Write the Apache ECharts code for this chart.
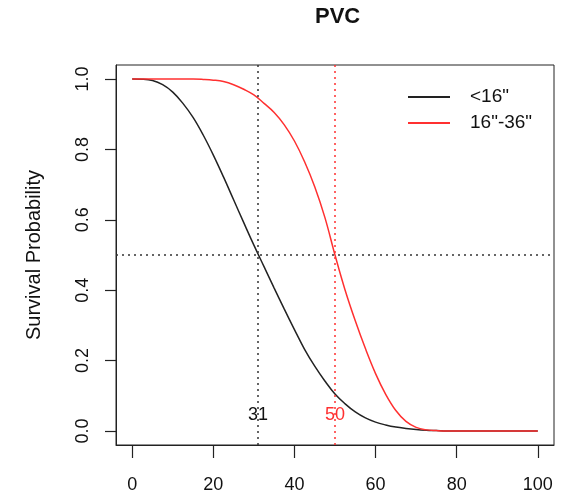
<!DOCTYPE html>
<html>
<head>
<meta charset="utf-8">
<script src="https://cdn.jsdelivr.net/npm/echarts@6/dist/echarts.min.js"></script>
<style>html,body{margin:0;padding:0;background:#fff}#c{width:577px;height:498px}</style>
</head>
<body>
<div id="c"></div>
<script>
var time = [0,2.5,5,7.5,10,12.5,15,17.5,20,22.5,25,27.5,30,32.5,35,37.5,40,42.5,45,47.5,50,52.5,55,57.5,60,62.5,65,67.5,70,72.5,75,77.5,80,82.5,85,87.5,90,92.5,95,97.5,100];
var survSmall = [1.000,0.9995,0.996,0.984,0.963,0.931,0.891,0.841,0.784,0.722,0.657,0.592,0.528,0.467,0.406,0.346,0.288,0.232,0.184,0.142,0.105,0.077,0.054,0.037,0.025,0.017,0.011,0.007,0.004,0.002,0.001,0,0,0,0,0,0,0,0,0,0];
var survMid = [1.000,1.000,1.000,1.000,1.000,1.000,1.000,0.999,0.997,0.993,0.984,0.971,0.955,0.931,0.905,0.870,0.824,0.765,0.694,0.607,0.500,0.400,0.313,0.234,0.163,0.104,0.058,0.027,0.010,0.003,0.001,0,0,0,0,0,0,0,0,0,0];
var seriesNames = ['<16"', '16"-36"'];
var medians = [31, 50];
var medianLabelY = 0.045;
var refLevel = 0.5;
var xTicks = [0,20,40,60,80,100];
var yTicks = [0,0.2,0.4,0.6,0.8,1.0];

var BLACK = '#222222', RED = '#ff3030';
var FONT = 'Liberation Sans, Arial, sans-serif';
function pairs(xs, ys){ return xs.map(function(x,i){ return [x, ys[i]]; }); }

var chart = echarts.init(document.getElementById('c'), null, {renderer:'canvas'});
chart.setOption({
  animation: false,
  textStyle: {fontFamily: FONT},
  title: {
    text: 'PVC', left: 310, top: 1,
    textStyle: {fontSize: 22, fontWeight: 'bold', color: '#111', fontFamily: FONT}
  },
  grid: {left: 116, right: 23, top: 65, bottom: 53, show: true, borderColor: '#222', borderWidth: 1, backgroundColor: 'transparent'},
  legend: {
    orient: 'vertical', left: 403, top: 82, itemWidth: 42, itemHeight: 2, itemGap: 6,
    icon: 'rect',
    data: seriesNames,
    textStyle: {fontSize: 19, color: '#111', padding: [0,0,0,15], lineHeight: 20, fontFamily: FONT}
  },
  xAxis: {
    type: 'value', min: -4, max: 104, position: 'bottom',
    axisLine: {show: true, onZero: false, lineStyle: {color: '#222', width: 1}},
    axisTick: {show: true, inside: false, length: 13, customValues: xTicks, lineStyle: {color: '#222', width: 1.2}},
    axisLabel: {customValues: xTicks, fontSize: 18, color: '#111', margin: 31},
    splitLine: {show: false}
  },
  yAxis: {
    type: 'value', min: -0.04, max: 1.04, position: 'left',
    name: 'Survival Probability', nameLocation: 'middle', nameGap: 72, nameRotate: 90,
    nameTextStyle: {fontSize: 20, color: '#111'},
    axisLine: {show: true, onZero: false, lineStyle: {color: '#222', width: 1}},
    axisTick: {show: true, inside: false, length: 11, customValues: yTicks, lineStyle: {color: '#222', width: 1.2}},
    axisLabel: {customValues: yTicks, rotate: 90, fontSize: 18, color: '#111', margin: 24,
      formatter: function(v){ return v.toFixed(1); }},
    splitLine: {show: false}
  },
  series: [
    {
      name: seriesNames[0], type: 'line', data: pairs(time, survSmall), smooth: 0.4, symbol: 'none',
      lineStyle: {color: BLACK, width: 1.5}, itemStyle: {color: BLACK}, z: 3,
      markLine: {
        silent: true, symbol: 'none', label: {show: false},
        data: [
          {xAxis: medians[0], lineStyle: {color: '#333', type: [2,4], width: 1.5}},
          {yAxis: refLevel, lineStyle: {color: '#333', type: [2,4], width: 1.5}}
        ]
      },
      markPoint: {
        silent: true, symbol: 'circle', symbolSize: 0,
        label: {show: true, position: 'inside', fontSize: 18, color: '#111', formatter: String(medians[0])},
        data: [{coord: [medians[0], medianLabelY]}]
      }
    },
    {
      name: seriesNames[1], type: 'line', data: pairs(time, survMid), smooth: 0.4, symbol: 'none',
      lineStyle: {color: RED, width: 1.5}, itemStyle: {color: RED}, z: 3,
      markLine: {
        silent: true, symbol: 'none', label: {show: false},
        data: [
          {xAxis: medians[1], lineStyle: {color: RED, type: [2,4], width: 1.5}}
        ]
      },
      markPoint: {
        silent: true, symbol: 'circle', symbolSize: 0,
        label: {show: true, position: 'inside', fontSize: 18, color: RED, formatter: String(medians[1])},
        data: [{coord: [medians[1], medianLabelY]}]
      }
    }
  ]
});
</script>
</body>
</html>
